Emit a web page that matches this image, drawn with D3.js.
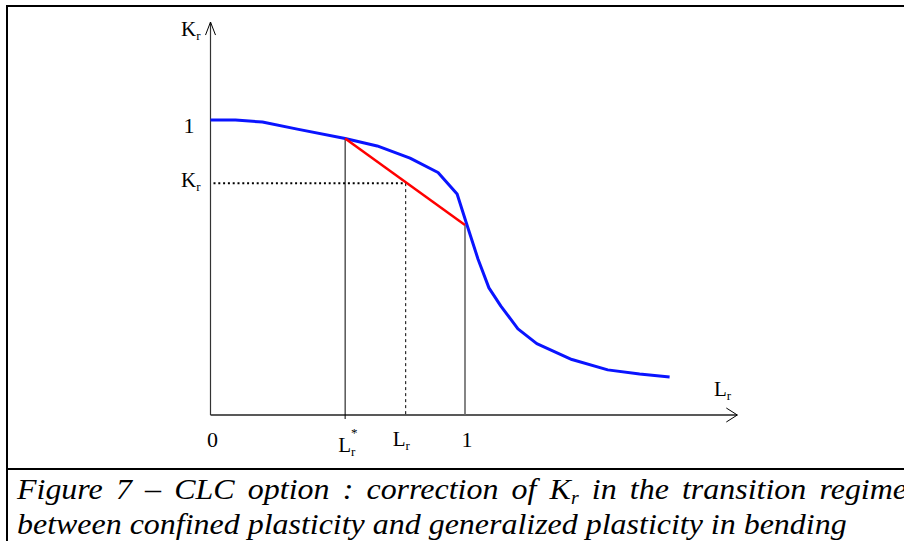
<!DOCTYPE html>
<html>
<head>
<meta charset="utf-8">
<script src="https://cdn.jsdelivr.net/npm/d3@7"></script>
<style>
  html, body { margin: 0; padding: 0; background: #fff; }
  svg { display: block; }
</style>
</head>
<body>
<svg width="904" height="541"></svg>
<script>
// Kr = f(Lr) curve
var curveLr = [0, 0.098, 0.204, 0.341, 0.529, 0.655, 0.784, 0.894, 0.969, 1.004, 1.051, 1.094, 1.141, 1.208, 1.282, 1.420, 1.561, 1.686, 1.804];
var curveKr = [1, 1, 0.993, 0.969, 0.937, 0.912, 0.871, 0.822, 0.749, 0.654, 0.529, 0.431, 0.369, 0.292, 0.242, 0.188, 0.153, 0.139, 0.129];

// CLC correction: straight chord from Lr* to Lr = 1
var chordLr = [0.529, 1];
var chordKr = [0.937, 0.644];

// the corrected point
var pointLr = 0.767;
var pointKr = 0.786;

var xTickVals = [0, 0.529, 0.767, 1];
var xTickLabels = ["0", "L*", "L", "1"];
var yTickVals = [1, 0.786];
var yTickLabels = ["1", "K"];

var captionLine1 = ["Figure", "7", "\u2013", "CLC", "option", ":", "correction", "of", "K_r", "in", "the", "transition", "regime"];
var captionLine2 = "between confined plasticity and generalized plasticity in bending";

var serif = "'Liberation Serif', 'Times New Roman', serif";

var svg = d3.select("svg");

var x = d3.scaleLinear().domain([0, 1]).range([210.5, 465]);
var y = d3.scaleLinear().domain([0, 1]).range([415, 120]);

// frame
svg.append("path")
    .attr("d", "M7,541 V6 H904 M7,469 H904")
    .attr("fill", "none")
    .attr("stroke", "#000")
    .attr("stroke-width", 2);

// axes
var xMax = 2.07, yMax = 1.332;
svg.append("line")
    .attr("x1", x(0)).attr("y1", y(0))
    .attr("x2", x(xMax)).attr("y2", y(0))
    .attr("stroke", "#222").attr("stroke-width", 1.5);
svg.append("line")
    .attr("x1", x(0)).attr("y1", y(0))
    .attr("x2", x(0)).attr("y2", y(yMax))
    .attr("stroke", "#333").attr("stroke-width", 1.2);
// open arrow heads
svg.append("path")
    .attr("d", "M" + (x(xMax) - 11) + "," + (y(0) - 7) + " L" + x(xMax) + "," + y(0) + " L" + (x(xMax) - 11) + "," + (y(0) + 7))
    .attr("fill", "none").attr("stroke", "#000").attr("stroke-width", 1);
svg.append("path")
    .attr("d", "M" + (x(0) - 5) + "," + (y(yMax) + 13) + " L" + x(0) + "," + y(yMax) + " L" + (x(0) + 5) + "," + (y(yMax) + 13))
    .attr("fill", "none").attr("stroke", "#000").attr("stroke-width", 1);

// guide lines
svg.append("line")
    .attr("x1", x(chordLr[0])).attr("y1", y(chordKr[0]))
    .attr("x2", x(chordLr[0])).attr("y2", y(0) + 4)
    .attr("stroke", "#000").attr("stroke-width", 1);
svg.append("line")
    .attr("x1", x(1)).attr("y1", y(chordKr[1]))
    .attr("x2", x(1)).attr("y2", y(0))
    .attr("stroke", "#666").attr("stroke-width", 1.6);
svg.append("line")
    .attr("x1", x(pointLr)).attr("y1", y(pointKr))
    .attr("x2", x(pointLr)).attr("y2", y(0))
    .attr("stroke", "#000").attr("stroke-width", 1)
    .attr("stroke-dasharray", "3,3");
svg.append("line")
    .attr("x1", x(0) + 3).attr("y1", y(pointKr))
    .attr("x2", x(pointLr)).attr("y2", y(pointKr))
    .attr("stroke", "#000").attr("stroke-width", 2)
    .attr("stroke-dasharray", "2,2.8");

// curve
var curve = curveLr.map(function (d, i) { return [d, curveKr[i]]; });
var line = d3.line()
    .x(function (d) { return x(d[0]); })
    .y(function (d) { return y(d[1]); });

svg.append("path")
    .datum(curve)
    .attr("d", line)
    .attr("fill", "none")
    .attr("stroke", "#0a14ff")
    .attr("stroke-width", 3)
    .attr("stroke-linejoin", "round");

svg.append("path")
    .datum(chordLr.map(function (d, i) { return [d, chordKr[i]]; }))
    .attr("d", line)
    .attr("fill", "none")
    .attr("stroke", "#ff0000")
    .attr("stroke-width", 2.5);

// labels: main letter + small subscript r (+ optional star)
function subLabel(g, px, py, main, fs, star) {
    var t = g.append("text")
        .attr("x", px).attr("y", py)
        .style("font-family", serif)
        .style("font-size", fs + "px")
        .text(main);
    var w = t.node().getComputedTextLength();
    g.append("text")
        .attr("x", px + w).attr("y", py + 4)
        .style("font-family", serif)
        .style("font-size", "13px")
        .text("r");
    if (star) {
        g.append("text")
            .attr("x", px + w).attr("y", py - 15)
            .style("font-family", serif)
            .style("font-size", "13px")
            .text("*");
    }
}

var labels = svg.append("g");

// x tick labels
xTickVals.forEach(function (v, i) {
    var lab = xTickLabels[i];
    if (lab === "0" || lab === "1") {
        labels.append("text")
            .attr("x", x(v) + 2).attr("y", 447)
            .attr("text-anchor", "middle")
            .style("font-family", serif)
            .style("font-size", "22px")
            .text(lab);
    } else if (lab === "L*") {
        subLabel(labels, x(v) - 7, 452, "L", 21, true);
    } else {
        subLabel(labels, x(v) - 13, 446, "L", 21, false);
    }
});

// y tick labels
yTickVals.forEach(function (v, i) {
    var lab = yTickLabels[i];
    if (lab === "1") {
        labels.append("text")
            .attr("x", 189).attr("y", y(v) + 13)
            .attr("text-anchor", "middle")
            .style("font-family", serif)
            .style("font-size", "22px")
            .text(lab);
    } else {
        subLabel(labels, 181, y(v) + 4, "K", 21, false);
    }
});

// axis titles
subLabel(labels, 181, 36, "K", 21, false);
subLabel(labels, 714, 396, "L", 21, false);

// caption: tall, slightly condensed italic serif
var capFs = 30;
var capLeft = 17;
var cap = svg.append("g");

var l2 = cap.append("text")
    .attr("y", 534)
    .style("font-family", serif)
    .style("font-style", "italic")
    .style("font-size", capFs + "px")
    .text(captionLine2);
var w2 = l2.node().getComputedTextLength();
var squeeze = 830 / w2;
cap.attr("transform", "translate(" + capLeft + ",0) scale(" + squeeze + ",1)");
l2.attr("x", 0);

// first line is justified, running off the right edge
var words = captionLine1.map(function (w) {
    var t = cap.append("text").attr("y", 499)
        .style("font-family", serif)
        .style("font-style", "italic")
        .style("font-size", capFs + "px");
    if (w === "K_r") {
        t.append("tspan").text("K");
        t.append("tspan").attr("dy", 5).style("font-size", (capFs * 0.62) + "px").text("r");
    } else {
        t.text(w);
    }
    return t;
});
var widths = words.map(function (t) { return t.node().getComputedTextLength(); });
var total = d3.sum(widths);
var lineEnd = (907 - capLeft) / squeeze;
var gap = (lineEnd - total) / (words.length - 1);
var cx = 0;
words.forEach(function (t, i) {
    t.attr("x", cx);
    cx += widths[i] + gap;
});
</script>
</body>
</html>
